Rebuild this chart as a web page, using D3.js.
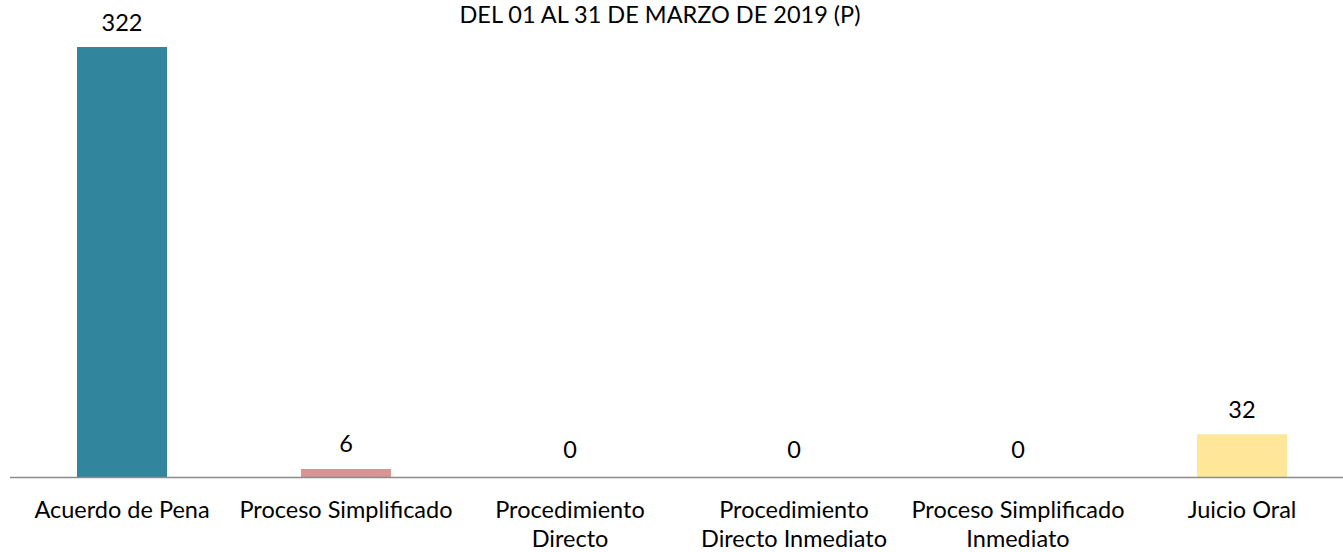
<!DOCTYPE html>
<html><head><meta charset="utf-8">
<script src="https://cdn.jsdelivr.net/npm/d3@7"></script>
<style>body{margin:0;background:#fff}svg{display:block}text{font-family:Lato,"Open Sans",sans-serif;fill:#000}</style>
</head><body><svg id="c" width="1343" height="552"></svg>
<script>
const title = "DEL 01 AL 31 DE MARZO DE 2019 (P)";
const categories = ["Acuerdo de Pena","Proceso Simplificado","Procedimiento Directo","Procedimiento Directo Inmediato","Proceso Simplificado Inmediato","Juicio Oral"];
const labelLines = [["Acuerdo de Pena"],["Proceso Simplificado"],["Procedimiento","Directo"],["Procedimiento","Directo Inmediato"],["Proceso Simplificado","Inmediato"],["Juicio Oral"]];
const values = [322, 6, 0, 0, 0, 32];
const colors = ["#31859C","#D99594","#31859C","#31859C","#31859C","#FFE699"];

const svg = d3.select("#c");
const x = d3.scaleBand().domain(categories).range([10, 1354]).paddingInner(0.598).paddingOuter(0.299);
const y = d3.scaleLinear().domain([0, 322]).range([477, 47]);
const fs = 23.5;

svg.append("text").attr("x", 660).attr("y", 23).attr("text-anchor","middle").style("font-size","23.5px").text(title);

svg.selectAll("rect.bar").data(values).join("rect").attr("class","bar")
  .attr("x",(d,i)=>x(categories[i])).attr("width",x.bandwidth())
  .attr("y",d=>y(d)).attr("height",d=>y(0)-y(d)).attr("fill",(d,i)=>colors[i]);

svg.append("line").attr("x1",10).attr("x2",1343).attr("y1",y(0)+0.5).attr("y2",y(0)+0.5)
  .attr("stroke","#8c8c8c").attr("stroke-width",1.5);

svg.selectAll("text.val").data(values).join("text").attr("class","val")
  .attr("x",(d,i)=>x(categories[i])+x.bandwidth()/2).attr("y",d=>y(d)-(d===0?19:16.5))
  .attr("text-anchor","middle").style("font-size",fs+"px").text(d=>d);

const g = svg.selectAll("text.cat").data(labelLines).join("text").attr("class","cat")
  .attr("x",(d,i)=>x(categories[i])+x.bandwidth()/2).attr("y",518)
  .attr("text-anchor","middle").style("font-size",fs+"px");
g.selectAll("tspan").data(d=>d).join("tspan")
  .attr("x",function(){return this.parentNode.getAttribute("x");})
  .attr("dy",(d,i)=>i===0?0:29).text(d=>d);
</script></body></html>
